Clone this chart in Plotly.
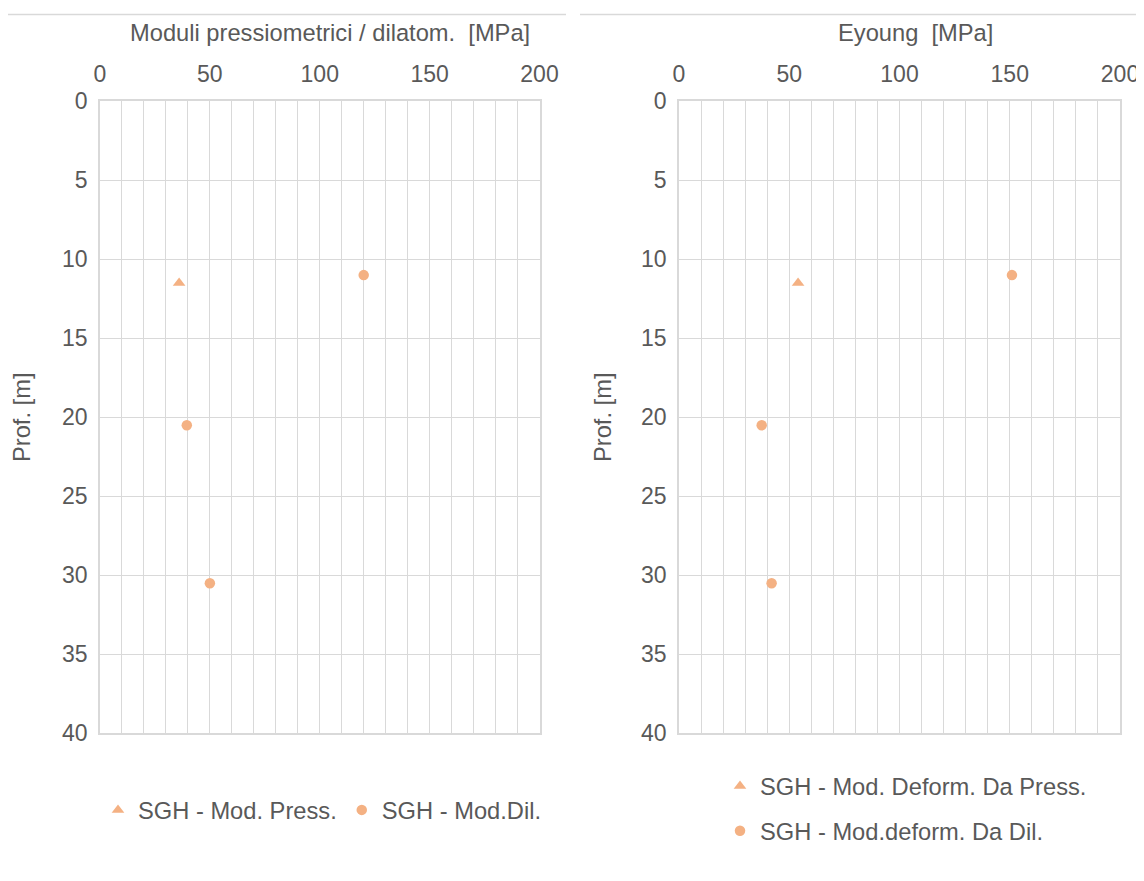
import plotly.graph_objects as go

# Left panel data (Moduli pressiometrici / dilatometrici)
press_mod = [36]
press_depth = [11.5]
dil_mod = [120, 39.5, 50]
dil_depth = [11.0, 20.5, 30.5]

# Right panel data (Eyoung)
ey_press_mod = [54]
ey_press_depth = [11.5]
ey_dil_mod = [151, 37.5, 42]
ey_dil_depth = [11.0, 20.5, 30.5]

x_ticks = [0, 50, 100, 150, 200]
y_ticks = [0, 5, 10, 15, 20, 25, 30, 35, 40]

W, H = 1144, 881
OFF = 8  # page body margin
MARK = "#F4B183"
TXT = "#595959"
GRID = "#D9D9D9"
FONT = "Liberation Sans, Arial, sans-serif"
FS = 23
FS2 = 23.7

def px_x(p):
    return (p - OFF) / W

def px_y(p):
    return 1 - (p - OFF) / H

fig = go.Figure()

fig.add_trace(go.Scatter(x=press_mod, y=press_depth, mode="markers", name="SGH - Mod. Press.",
                         marker=dict(symbol="triangle-up", size=11, color=MARK),
                         xaxis="x", yaxis="y", legend="legend"))
fig.add_trace(go.Scatter(x=dil_mod, y=dil_depth, mode="markers", name="SGH - Mod.Dil.",
                         marker=dict(symbol="circle", size=10.5, color=MARK),
                         xaxis="x", yaxis="y", legend="legend"))
fig.add_trace(go.Scatter(x=ey_press_mod, y=ey_press_depth, mode="markers", name="SGH - Mod. Deform. Da Press.",
                         marker=dict(symbol="triangle-up", size=11, color=MARK),
                         xaxis="x2", yaxis="y2", legend="legend2", legendgroup="a"))
fig.add_trace(go.Scatter(x=ey_dil_mod, y=ey_dil_depth, mode="markers", name="SGH - Mod.deform. Da Dil.",
                         marker=dict(symbol="circle", size=10.5, color=MARK),
                         xaxis="x2", yaxis="y2", legend="legend2", legendgroup="b"))

ydom = [px_y(733.3), px_y(101.3)]

def xax(domain, anchor):
    return dict(domain=domain, anchor=anchor, side="top", range=[0, 200], automargin=False,
                tickvals=x_ticks, showgrid=True, gridcolor=GRID, gridwidth=1,
                minor=dict(dtick=10, showgrid=True, gridcolor=GRID, gridwidth=1),
                showline=True, linecolor=GRID, linewidth=1.5, mirror=True,
                zeroline=False, ticks="outside", ticklen=8, tickcolor="rgba(0,0,0,0)",
                tickfont=dict(family=FONT, size=FS, color=TXT), fixedrange=True)

def yax(anchor):
    return dict(domain=ydom, anchor=anchor, range=[40, 0], tickvals=y_ticks, automargin=False,
                showgrid=True, gridcolor=GRID, gridwidth=1,
                showline=True, linecolor=GRID, linewidth=1.5, mirror=True,
                zeroline=False, ticks="outside", ticklen=6, tickcolor="rgba(0,0,0,0)",
                tickfont=dict(family=FONT, size=FS, color=TXT), fixedrange=True)

fig.update_layout(
    width=W, height=H,
    margin=dict(l=0, r=0, t=0, b=0, autoexpand=False),
    paper_bgcolor="white", plot_bgcolor="white",
    font=dict(family=FONT, size=FS, color=TXT),
    xaxis=xax([px_x(100), px_x(539.5)], "y"),
    yaxis=yax("x"),
    xaxis2=xax([px_x(679), px_x(1120)], "y2"),
    yaxis2=yax("x2"),
    legend=dict(orientation="h", x=px_x(98), y=px_y(810), xanchor="left", yanchor="middle",
                font=dict(family=FONT, size=FS2, color=TXT), itemwidth=30, bgcolor="rgba(0,0,0,0)"),
    legend2=dict(orientation="v", x=px_x(720), y=px_y(764), xanchor="left", yanchor="top",
                 font=dict(family=FONT, size=FS2, color=TXT), itemwidth=30, tracegroupgap=11,
                 bgcolor="rgba(0,0,0,0)"),
    showlegend=True,
)

annots = [
    dict(text="Moduli pressiometrici / dilatom.  [MPa]", x=px_x(330), y=px_y(33)),
    dict(text="Eyoung  [MPa]", x=px_x(915), y=px_y(33)),
    dict(text="Prof. [m]", x=px_x(22), y=px_y(417), textangle=-90),
    dict(text="Prof. [m]", x=px_x(603), y=px_y(417), textangle=-90),
]
for a in annots:
    fig.add_annotation(xref="paper", yref="paper", showarrow=False,
                       xanchor="center", yanchor="middle",
                       font=dict(family=FONT, size=FS2, color=TXT), **a)

fig.add_shape(type="line", xref="paper", yref="paper", x0=px_x(8), x1=px_x(566),
              y0=px_y(14.5), y1=px_y(14.5), line=dict(color=GRID, width=1.5))
fig.add_shape(type="line", xref="paper", yref="paper", x0=px_x(580), x1=1,
              y0=px_y(14.5), y1=px_y(14.5), line=dict(color=GRID, width=1.5))

fig.write_html("out.html")
